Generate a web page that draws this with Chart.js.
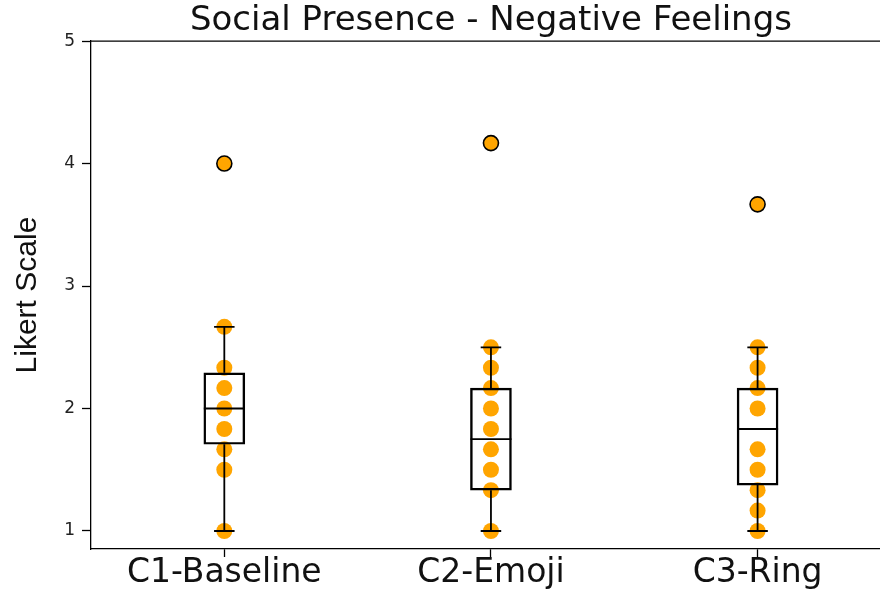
<!DOCTYPE html>
<html>
<head>
<meta charset="utf-8">
<script src="https://cdn.jsdelivr.net/npm/chart.js@4"></script>
<style>
  html, body { margin: 0; padding: 0; background: #fff; overflow: hidden; width: 880px; height: 590px; }
  #wrap { width: 900px; height: 590px; }
</style>
</head>
<body>
<div id="wrap"><canvas id="c" width="900" height="590"></canvas></div>
<script>
// ---- data ----
const categories = ['C1-Baseline', 'C2-Emoji', 'C3-Ring'];
const yTicks = [1, 2, 3, 4, 5];

// individual responses (visible points) per condition
const baselinePoints = [1, 1.5, 1.667, 1.833, 2, 2.167, 2.333, 2.667];
const emojiPoints    = [1, 1.333, 1.5, 1.667, 1.833, 2, 2.167, 2.333, 2.5];
const ringPoints     = [1, 1.167, 1.333, 1.5, 1.667, 2, 2.167, 2.333, 2.5];

// outliers (fliers)
const outliers = [4, 4.167, 3.667];

// box statistics
const q1Values     = [1.708, 1.333, 1.375];
const q3Values     = [2.292, 2.167, 2.167];
const medianValues = [2.0, 1.75, 1.833];
const whiskerLow   = [1, 1, 1];
const whiskerHigh  = [2.667, 2.5, 2.5];

// ---- build datasets ----
const pointSets = [baselinePoints, emojiPoints, ringPoints];
const pointData = [];
pointSets.forEach((arr, i) => arr.forEach(v => pointData.push({ x: i + 1, y: v })));
const outlierData = outliers.map((v, i) => ({ x: i + 1, y: v }));
const boxData = categories.map((c, i) => ({ x: i + 1, y: [q1Values[i], q3Values[i]] }));

const boxPlugin = {
  id: 'boxParts',
  afterDatasetsDraw(chart) {
    const meta = chart.getDatasetMeta(2);
    const ys = chart.scales.y;
    const ctx = chart.ctx;
    ctx.save();
    ctx.strokeStyle = '#000';
    ctx.lineWidth = 1.8;
    meta.data.forEach((el, i) => {
      const x = el.x;
      const hw = el.width / 2;
      const capHw = hw / 2;
      const yMed = ys.getPixelForValue(medianValues[i]);
      const yQ1 = ys.getPixelForValue(q1Values[i]);
      const yQ3 = ys.getPixelForValue(q3Values[i]);
      const yLo = ys.getPixelForValue(whiskerLow[i]);
      const yHi = ys.getPixelForValue(whiskerHigh[i]);
      ctx.beginPath();
      ctx.moveTo(x - hw, yMed); ctx.lineTo(x + hw, yMed);
      ctx.moveTo(x, yQ1); ctx.lineTo(x, yLo);
      ctx.moveTo(x, yQ3); ctx.lineTo(x, yHi);
      ctx.moveTo(x - capHw, yLo); ctx.lineTo(x + capHw, yLo);
      ctx.moveTo(x - capHw, yHi); ctx.lineTo(x + capHw, yHi);
      ctx.stroke();
    });
    ctx.restore();
  }
};

const framePlugin = {
  id: 'frame',
  afterDraw(chart) {
    const a = chart.chartArea;
    const ctx = chart.ctx;
    ctx.save();
    ctx.strokeStyle = '#000';
    ctx.lineWidth = 1.3;
    ctx.beginPath();
    ctx.moveTo(a.left, a.top); ctx.lineTo(a.right, a.top); ctx.lineTo(a.right, a.bottom);
    ctx.stroke();
    ctx.restore();
  }
};

new Chart(document.getElementById('c'), {
  type: 'bar',
  data: {
    datasets: [
      {
        type: 'scatter',
        data: pointData,
        backgroundColor: 'orange',
        borderWidth: 0,
        pointRadius: 8,
        order: 3
      },
      {
        type: 'scatter',
        data: outlierData,
        backgroundColor: 'orange',
        borderColor: '#000',
        borderWidth: 1.6,
        pointRadius: 7.5,
        order: 2
      },
      {
        type: 'bar',
        data: boxData,
        backgroundColor: 'rgba(0,0,0,0)',
        borderColor: '#000',
        borderWidth: 1.8,
        borderSkipped: false,
        barThickness: 41,
        order: 1
      }
    ]
  },
  options: {
    responsive: false,
    animation: false,
    devicePixelRatio: 1,
    layout: { padding: { left: 0, right: 9, top: 0, bottom: 0 } },
    plugins: {
      legend: { display: false },
      tooltip: { enabled: false },
      title: {
        display: true,
        text: 'Social Presence - Negative Feelings',
        fullSize: false,
        color: '#111',
        font: { family: 'DejaVu Sans', size: 34, weight: 'normal', lineHeight: 1.15 },
        padding: { top: 2, bottom: 0 }
      }
    },
    scales: {
      x: {
        type: 'linear',
        min: 0.5,
        max: 3.5,
        offset: false,
        afterBuildTicks(scale) { scale.ticks = categories.map((c, i) => ({ value: i + 1 })); },
        afterFit(scale) { scale.height = 41; },
        ticks: {
          autoSkip: false,
          maxRotation: 0,
          padding: 0,
          color: '#111',
          font: { family: 'DejaVu Sans', size: 33, lineHeight: 1.0 },
          callback: (v) => categories[v - 1]
        },
        grid: { offset: false, drawOnChartArea: false, drawTicks: true, tickLength: 8, tickColor: '#000', tickWidth: 1.3 },
        border: { display: true, color: '#000', width: 1.3 }
      },
      y: {
        type: 'linear',
        min: 0.853,
        max: 5,
        afterBuildTicks(scale) { scale.ticks = yTicks.map(v => ({ value: v })); },
        afterFit(scale) { scale.width = 91; },
        ticks: {
          padding: 7,
          color: '#222',
          font: { family: 'DejaVu Sans', size: 17 },
          callback: (v) => String(v)
        },
        title: {
          display: true,
          text: 'Likert Scale',
          color: '#111',
          font: { family: 'Liberation Sans', size: 30 },
          padding: { top: 10, bottom: 0 }
        },
        grid: { drawOnChartArea: false, drawTicks: true, tickLength: 9, tickColor: '#000', tickWidth: 1.3 },
        border: { display: true, color: '#000', width: 1.3 }
      }
    }
  },
  plugins: [boxPlugin, framePlugin]
});
</script>
</body>
</html>
